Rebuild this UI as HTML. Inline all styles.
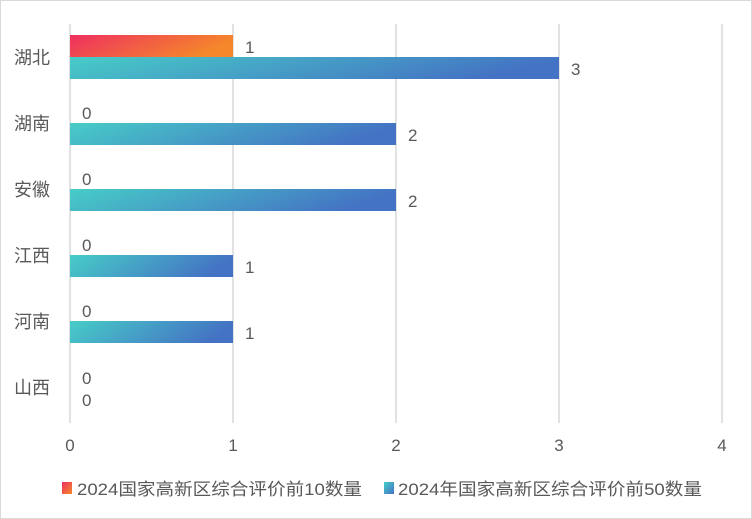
<!DOCTYPE html>
<html><head><meta charset="utf-8"><style>
body{margin:0;background:#fff}
svg{display:block}
text{font-family:"Liberation Sans","Noto Sans CJK SC",sans-serif;fill:#595959}
</style></head><body>
<svg width="752" height="519" viewBox="0 0 752 519">
<defs>
<linearGradient id="r" x1="0" y1="0" x2="1" y2="0.3"><stop offset="0" stop-color="#ee2f60"/><stop offset="1" stop-color="#f5882a"/></linearGradient>
<linearGradient id="b" x1="0" y1="0" x2="1" y2="0.2"><stop offset="0" stop-color="#47cdc7"/><stop offset="1" stop-color="#4472c4"/></linearGradient>
<linearGradient id="lr" x1="0" y1="0" x2="1" y2="1"><stop offset="0" stop-color="#ee2f60"/><stop offset="1" stop-color="#f5882a"/></linearGradient>
<linearGradient id="lb" x1="0" y1="0" x2="1" y2="1"><stop offset="0" stop-color="#47cdc7"/><stop offset="1" stop-color="#4472c4"/></linearGradient>
</defs>
<rect x="0.5" y="0.5" width="751" height="518" fill="#fff" stroke="#d9d9d9"/>
<g stroke="#d9d9d9" stroke-width="1.5">
<line x1="70" y1="24" x2="70" y2="423"/><line x1="233" y1="24" x2="233" y2="423"/><line x1="396" y1="24" x2="396" y2="423"/><line x1="559" y1="24" x2="559" y2="423"/><line x1="722" y1="24" x2="722" y2="423"/>
</g>
<rect x="70" y="35" width="163" height="22" fill="url(#r)"/>
<rect x="70" y="57" width="489" height="22" fill="url(#b)"/>
<rect x="70" y="123" width="326" height="22" fill="url(#b)"/>
<rect x="70" y="189" width="326" height="22" fill="url(#b)"/>
<rect x="70" y="255" width="163" height="22" fill="url(#b)"/>
<rect x="70" y="321" width="163" height="22" fill="url(#b)"/>
<g font-size="17">
<text x="245" y="53">1</text><text x="571" y="75">3</text>
<text x="82" y="119">0</text><text x="408" y="141">2</text>
<text x="82" y="185">0</text><text x="408" y="207">2</text>
<text x="82" y="251">0</text><text x="245" y="273">1</text>
<text x="82" y="317">0</text><text x="245" y="339">1</text>
<text x="82" y="384">0</text><text x="82" y="406">0</text>
</g>
<g font-size="18">
<text x="14" y="64">湖北</text><text x="14" y="130">湖南</text><text x="14" y="196">安徽</text>
<text x="14" y="262">江西</text><text x="14" y="328">河南</text><text x="14" y="394">山西</text>
</g>
<g font-size="17" text-anchor="middle">
<text x="70" y="451">0</text><text x="233" y="451">1</text><text x="396" y="451">2</text><text x="559" y="451">3</text><text x="722" y="451">4</text>
</g>
<rect x="62" y="482" width="10" height="12" fill="url(#lr)"/>
<text x="77" y="495" font-size="17" textLength="285" lengthAdjust="spacingAndGlyphs">2024国家高新区综合评价前10数量</text>
<rect x="384" y="482" width="10" height="12" fill="url(#lb)"/>
<text x="398" y="495" font-size="17" textLength="304" lengthAdjust="spacingAndGlyphs">2024年国家高新区综合评价前50数量</text>
</svg>
</body></html>
